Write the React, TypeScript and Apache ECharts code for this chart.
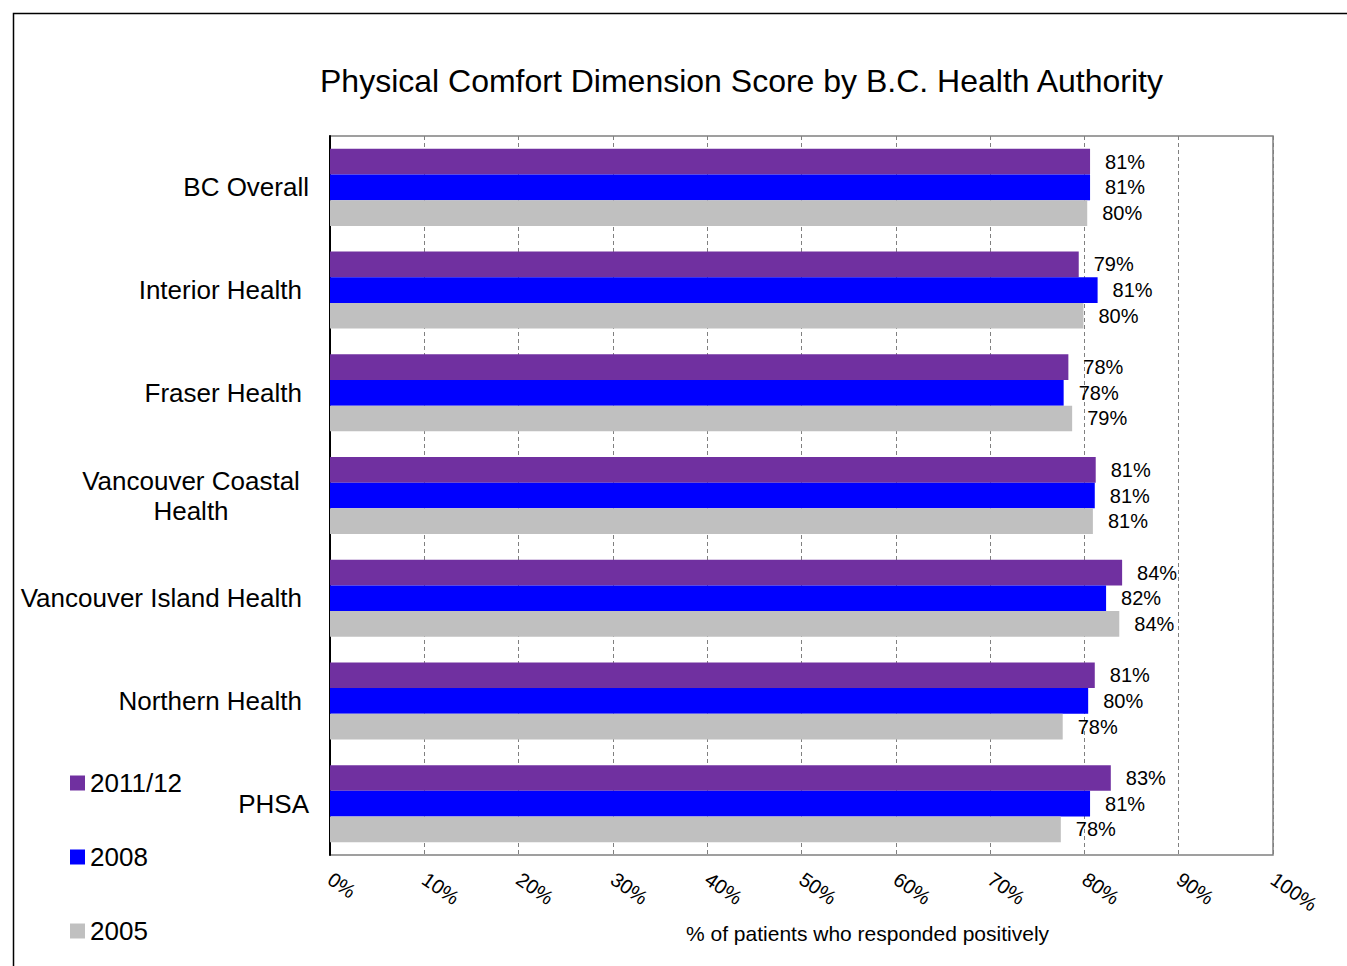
import React, { useEffect, useRef } from "react";
import * as echarts from "echarts";

const categories = [
  "BC Overall",
  "Interior Health",
  "Fraser Health",
  "Vancouver Coastal\nHealth",
  "Vancouver Island Health",
  "Northern Health",
  "PHSA",
];
const seriesNames = ["2011/12", "2008", "2005"];
const values2011 = [80.6, 79.4, 78.3, 81.2, 84.0, 81.1, 82.8];
const values2008 = [80.6, 81.4, 77.8, 81.1, 82.3, 80.4, 80.6];
const values2005 = [80.3, 79.9, 78.7, 80.9, 83.7, 77.7, 77.5];
const colors = ["#7030A0", "#0000FF", "#C0C0C0"];
const xTicks = [0, 10, 20, 30, 40, 50, 60, 70, 80, 90, 100];
const flushLabels = ["BC Overall", "PHSA"];

const FONT = "'Liberation Sans', Arial, sans-serif";

export default function App() {
  const ref = useRef<HTMLDivElement>(null);
  useEffect(() => {
    if (!ref.current) return;
    const chart = echarts.init(ref.current, undefined, { renderer: "svg" });
    const data = [values2011, values2008, values2005];
    chart.setOption({
      animation: false,
      backgroundColor: "#ffffff",
      textStyle: { fontFamily: FONT },
      title: {
        text: "Physical Comfort Dimension Score by B.C. Health Authority",
        left: 315,
        top: 60,
        textStyle: { fontFamily: FONT, fontSize: 32, fontWeight: "normal", color: "#000" },
      },
      legend: {
        orient: "vertical",
        left: 65,
        top: 765,
        itemWidth: 15,
        itemHeight: 15,
        itemGap: 48,
        icon: "rect",
        data: seriesNames,
        textStyle: { fontFamily: FONT, fontSize: 26, color: "#000" },
      },
      graphic: [
        {
          type: "rect",
          shape: { x: 13.5, y: 13.5, width: 1400, height: 1000 },
          style: { fill: "none", stroke: "#000", lineWidth: 1.5 },
          silent: true,
        },
        {
          type: "text",
          left: 686,
          top: 923,
          style: {
            text: "% of patients who responded positively",
            font: `21px ${FONT}`,
            fill: "#000",
          },
        },
      ],
      grid: {
        left: 330,
        top: 136,
        right: 74,
        bottom: 111,
        show: true,
        borderColor: "#808080",
        borderWidth: 1.5,
      },
      xAxis: {
        type: "value",
        min: 0,
        max: 100,
        interval: 10,
        axisLine: { show: false },
        axisTick: { show: false },
        splitLine: { show: true, lineStyle: { color: "#808080", type: [4, 3], width: 1 } },
        axisLabel: {
          rotate: -35,
          margin: 22,
          fontSize: 20,
          fontFamily: FONT,
          color: "#000",
          formatter: (v: number) => (xTicks.includes(v) ? `${v}%` : ""),
        },
      },
      yAxis: {
        type: "category",
        data: categories,
        inverse: true,
        axisLine: { show: true, lineStyle: { color: "#000", width: 2 } },
        axisTick: { show: false },
        axisLabel: {
          fontSize: 26,
          fontFamily: FONT,
          color: "#000",
          margin: 21,
          lineHeight: 30,
          align: "right",
          formatter: (v: string) => {
            if (v.includes("\n")) {
              return v
                .split("\n")
                .map((s) => `{c|${s}}{sp| }`)
                .join("\n");
            }
            if (flushLabels.includes(v)) return v;
            return `{t|${v}}{sp| }`;
          },
          rich: {
            c: {
              width: 222,
              align: "center",
              fontSize: 26,
              fontFamily: FONT,
              color: "#000",
              lineHeight: 30,
            },
            t: {
              fontSize: 26,
              fontFamily: FONT,
              color: "#000",
              lineHeight: 30,
            },
            sp: {
              width: 7,
              fontSize: 26,
              lineHeight: 30,
            },
          },
        },
      },
      series: seriesNames.map((name, i) => ({
        name,
        type: "bar",
        data: data[i],
        barGap: "0%",
        barCategoryGap: "25%",
        itemStyle: { color: colors[i] },
        label: {
          show: true,
          position: "right",
          distance: 15,
          fontSize: 20,
          fontFamily: FONT,
          color: "#000",
          formatter: (p: any) => `${Math.round(p.value)}%`,
        },
      })),
    });
    return () => chart.dispose();
  }, []);
  return (
    <div
      ref={ref}
      style={{ position: "fixed", left: 0, top: 0, width: 1347, height: 966 }}
    />
  );
}
